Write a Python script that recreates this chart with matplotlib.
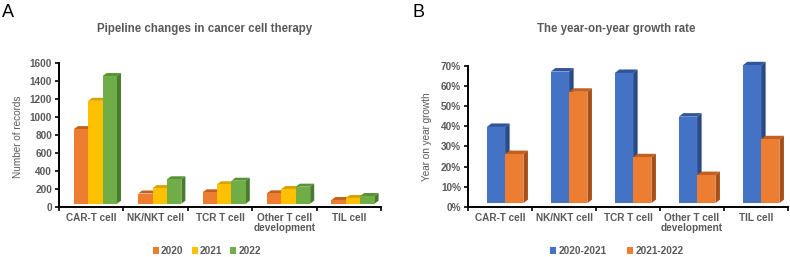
import numpy as np
import matplotlib.pyplot as plt
from matplotlib.patches import Polygon, Patch
from matplotlib.ticker import PercentFormatter, FixedLocator

plt.rcParams['font.family'] = ['Liberation Sans', 'DejaVu Sans']

# ---- data ----
categories = ['CAR-T cell', 'NK/NKT cell', 'TCR T cell', 'Other T cell\ndevelopment', 'TIL cell']
years = ['2020', '2021', '2022']
records_2020 = [865, 150, 163, 152, 78]
records_2021 = [1180, 210, 252, 200, 100]
records_2022 = [1455, 308, 292, 226, 122]

periods = ['2020-2021', '2021-2022']
growth_2020_2021 = [0.396, 0.670, 0.663, 0.447, 0.701]
growth_2021_2022 = [0.262, 0.570, 0.246, 0.158, 0.335]

# colours: front, top, side
pal_orange = ('#ED7D31', '#C2611F', '#A64F17')
pal_yellow = ('#FFC000', '#D9A200', '#B88A00')
pal_green = ('#70AD47', '#5A9236', '#4A7A2B')
pal_blue = ('#4472C4', '#2F559B', '#2A4A86')

GREY = '#595959'
W, H = 790, 257


def bar3d(ax, x, w, base, top, dx, dy, cols, z):
    front, topc, side = cols
    ax.add_patch(Polygon([(x, top), (x + w, top), (x + w + dx, top + dy), (x + dx, top + dy)],
                         closed=True, facecolor=topc, edgecolor='none', zorder=z, clip_on=False))
    ax.add_patch(Polygon([(x + w, base), (x + w + dx, base + dy), (x + w + dx, top + dy), (x + w, top)],
                         closed=True, facecolor=side, edgecolor='none', zorder=z, clip_on=False))
    ax.add_patch(Polygon([(x, base), (x + w, base), (x + w, top), (x, top)],
                         closed=True, facecolor=front, edgecolor='none', zorder=z + 0.5, clip_on=False))


def panel(ax, series, palettes, bw, shift, ymax, px_y, dxp, dyp):
    n = len(categories)
    dx = dxp / 64.0
    dy = dyp * px_y
    base = dy * 1.1
    ns = len(series)
    z = 2
    for i in range(n):
        x0 = i + 0.5 - ns * bw / 2 + shift
        for j, vals in enumerate(series):
            bar3d(ax, x0 + j * bw, bw, base, vals[i], dx, dy, palettes[j], z)
            z += 1
    ax.set_xlim(0, n)
    ax.set_ylim(0, ymax)
    ax.set_xticks(np.arange(n) + 0.5)
    ax.set_xticklabels(categories, fontsize=7.2, fontweight='bold', color=GREY, linespacing=1.05)
    ax.xaxis.set_minor_locator(FixedLocator(np.arange(n + 1)))
    ax.tick_params(axis='x', which='major', length=0, pad=4)
    ax.tick_params(axis='x', which='minor', length=3, width=1.2, direction='out')
    ax.tick_params(axis='y', length=3, width=1.2, direction='out', labelsize=7.2, labelcolor=GREY, pad=2)
    for lab in ax.get_yticklabels():
        lab.set_fontweight('bold')
    for s in ['top', 'right']:
        ax.spines[s].set_visible(False)
    for s in ['left', 'bottom']:
        ax.spines[s].set_linewidth(1.4)
    ax.patch.set_alpha(0)


fig = plt.figure(figsize=(W / 100, H / 100), dpi=100)

# ---- panel A ----
axA = fig.add_axes([59 / W, 1 - 207 / H, (381 - 59) / W, 144 / H])
panel(axA, [records_2020, records_2021, records_2022], [pal_orange, pal_yellow, pal_green],
      bw=14.3 / 64, shift=0.065, ymax=1600, px_y=1600 / 144, dxp=4, dyp=3)
axA.set_yticks(np.arange(0, 1601, 200))
for lab in axA.get_yticklabels():
    lab.set_fontweight('bold')
axA.set_ylabel('Number of records', fontsize=7.2, color=GREY)
axA.yaxis.set_label_coords(-0.113, 0.49)

# ---- panel B ----
axB = fig.add_axes([468 / W, 1 - 207 / H, (788 - 468) / W, 141.5 / H])
panel(axB, [growth_2020_2021, growth_2021_2022], [pal_blue, pal_orange],
      bw=18.3 / 64, shift=0.08, ymax=0.7, px_y=0.7 / 141.5, dxp=4.5, dyp=3.5)
axB.set_yticks(np.arange(0, 0.71, 0.1))
axB.yaxis.set_major_formatter(PercentFormatter(1.0, decimals=0))
for lab in axB.get_yticklabels():
    lab.set_fontweight('bold')
axB.set_ylabel('Year on year growth', fontsize=7.2, color=GREY)
axB.yaxis.set_label_coords(-0.113, 0.5)

# ---- titles & panel letters ----
fig.text(0.003, 0.985, 'A', fontsize=13, va='top', ha='left', color='black')
fig.text(412 / W, 0.985, 'B', fontsize=13, va='top', ha='left', color='black')
fig.text(205 / W, 1 - 29 / H, 'Pipeline changes in cancer cell therapy', fontsize=8.3,
         fontweight='bold', color=GREY, ha='center', va='center')
fig.text(616 / W, 1 - 29 / H, 'The year-on-year growth rate', fontsize=8.3,
         fontweight='bold', color=GREY, ha='center', va='center')

# ---- legends ----
hA = [Patch(facecolor=p[0], edgecolor='none') for p in [pal_orange, pal_yellow, pal_green]]
fig.legend(hA, years, loc='center', bbox_to_anchor=(207 / W, 1 - 251 / H), ncol=3, frameon=False,
           handlelength=0.6, handleheight=0.6, handletextpad=0.25, columnspacing=0.8,
           prop={'size': 7.2, 'weight': 'bold'}, labelcolor=GREY)
hB = [Patch(facecolor=p[0], edgecolor='none') for p in [pal_blue, pal_orange]]
fig.legend(hB, periods, loc='center', bbox_to_anchor=(617 / W, 1 - 251 / H), ncol=2, frameon=False,
           handlelength=0.6, handleheight=0.6, handletextpad=0.25, columnspacing=2.0,
           prop={'size': 7.2, 'weight': 'bold'}, labelcolor=GREY)

fig.savefig('out.png', dpi=100)
